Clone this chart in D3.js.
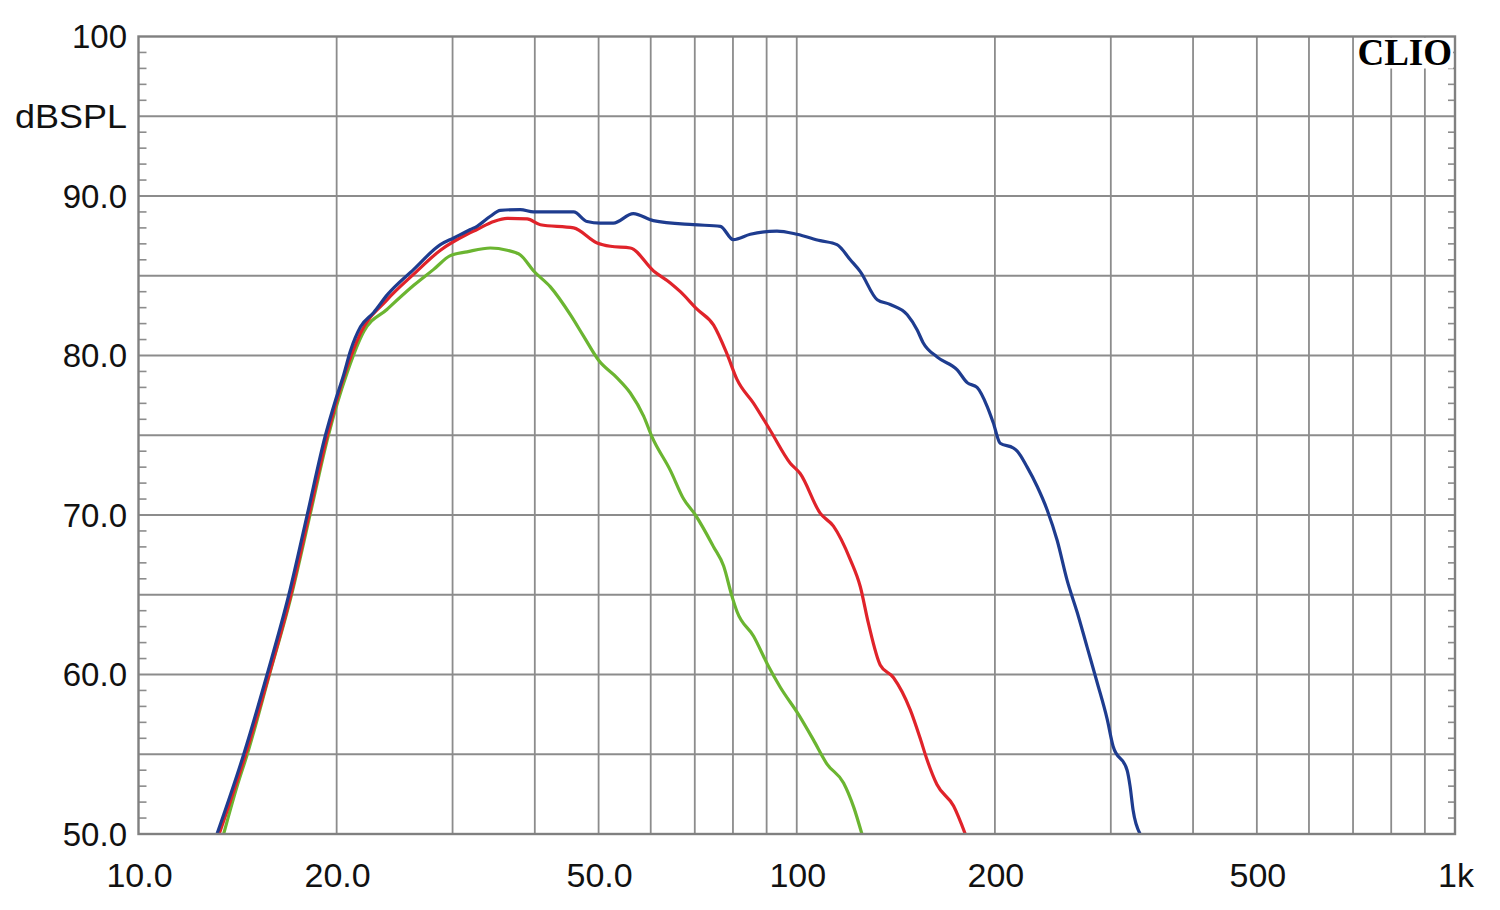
<!DOCTYPE html>
<html>
<head>
<meta charset="utf-8">
<script src="https://cdn.jsdelivr.net/npm/d3@7"></script>
<style>
html,body{margin:0;padding:0;background:#fff;}
svg{display:block;}
</style>
</head>
<body>
<svg id="chart" width="1500" height="910"></svg>
<script>
// ---- data (frequency in Hz, level in dBSPL) ----
const blueFreq = [13.16,14.45,15.68,16.92,18.04,19.23,19.92,20.50,20.99,21.74,22.77,23.87,26.19,28.75,30.12,31.93,32.68,34.24,35.45,38.03,39.84,45.82,48.02,50.30,52.64,56.45,60.54,69.64,76.54,80.10,85.01,93.31,100.07,108.56,115.1,120.6,124.9,132.5,138.7,147.2,152.4,155.6,163.5,175.3,181.5,187.9,194.7,198.8,203.7,213.3,216.2,223.9,231.8,240.2,248.7,257.5,266.7,276.2,286.0,296.2,302.4,317.6,320.9,324.3,332.4];
const blueDb   = [50.0,55.0,60.0,65.0,70.0,75.0,77.2,78.8,80.3,81.8,82.7,83.8,85.4,86.95,87.37,87.9,88.1,88.73,89.1,89.15,89.0,89.0,88.4,88.3,88.3,88.9,88.46,88.2,88.1,87.26,87.6,87.8,87.6,87.2,86.95,86.0,85.26,83.5,83.2,82.56,81.6,80.8,79.9,79.1,78.3,78.0,76.8,75.8,74.5,74.2,74.0,73.0,71.8,70.3,68.4,65.9,63.9,61.7,59.5,57.2,55.5,54.0,53.0,51.5,50.0];

const redFreq = [13.26,14.55,15.79,17.04,18.16,19.36,20.64,21.74,23.87,26.19,28.75,31.56,32.68,34.64,36.30,38.94,40.78,45.82,49.74,52.10,55.87,60.60,64.26,66.55,70.55,74.77,78.34,81.13,85.99,91.17,97.75,101.2,108.6,113.7,120.6,124.9,128.5,133.9,140.3,148.7,154.0,157.6,163.3,173.1,180.3];
const redDb   = [50.0,55.0,60.0,65.0,70.0,75.0,79.0,81.4,83.5,85.1,86.6,87.6,87.9,88.4,88.6,88.56,88.2,88.0,87.06,86.85,86.74,85.3,84.55,84.0,82.9,81.9,80.1,78.5,77.0,75.3,73.25,72.6,70.1,69.3,67.2,65.5,63.2,60.6,59.8,57.8,56.0,54.7,53.1,51.75,50.0];

const greenFreq = [13.47,14.12,14.63,15.81,17.08,18.22,19.43,20.74,21.99,23.87,26.19,28.08,29.77,31.56,34.24,36.30,38.03,39.84,42.24,45.29,47.46,50.00,53.33,55.87,58.53,60.27,64.26,67.33,70.15,74.77,77.43,79.73,81.13,85.99,90.62,94.40,100.6,106.0,111.1,117.8,122.0,125.6];
const greenDb   = [50.0,53.0,55.0,60.0,65.0,70.0,75.0,78.9,81.5,82.9,84.4,85.4,86.26,86.5,86.74,86.6,86.3,85.3,84.3,82.56,81.2,79.7,78.6,77.65,76.2,74.9,72.8,71.0,70.0,68.0,66.8,64.9,63.95,62.4,60.5,59.2,57.5,55.9,54.4,53.2,51.7,50.0];

const xGridValues = [20,30,40,50,60,70,80,90,100,200,300,400,500,600,700,800,900];
const xTickValues = [10,20,50,100,200,500,1000];
const xTickLabels = ["10.0","20.0","50.0","100","200","500","1k"];
const yGridValues = [55,60,65,70,75,80,85,90,95];
const yTickValues = [100,95,90,80,70,60,50];
const yTickLabels = ["100","dBSPL","90.0","80.0","70.0","60.0","50.0"];
const seriesColors = {green:"#6bb531", red:"#e0232a", blue:"#1e3c8f"};
const brand = "CLIO";

// ---- layout ----
const L = 138.5, R = 1455, T = 36.5, B = 834;
const svg = d3.select("#chart");
const x = d3.scaleLog().domain([10,1000]).range([L,R]);
const y = d3.scaleLinear().domain([50,100]).range([B,T]);
const gridColor = "#8c8c8c";

// grid
const g = svg.append("g");
g.selectAll("line.vx").data(xGridValues).enter().append("line")
  .attr("x1",d=>x(d)).attr("x2",d=>x(d)).attr("y1",T).attr("y2",B)
  .attr("stroke",gridColor).attr("stroke-width",1.8);
g.selectAll("line.hy").data(yGridValues).enter().append("line")
  .attr("x1",L).attr("x2",R).attr("y1",d=>y(d)).attr("y2",d=>y(d))
  .attr("stroke",gridColor).attr("stroke-width",1.8);

// minor ticks every 1 dB (left and right, inside)
const minor = d3.range(51,100).filter(v=>v%5!==0);
g.selectAll("line.ml").data(minor).enter().append("line")
  .attr("x1",L).attr("x2",L+8).attr("y1",d=>y(d)).attr("y2",d=>y(d))
  .attr("stroke",gridColor).attr("stroke-width",1.6);
g.selectAll("line.mr").data(minor).enter().append("line")
  .attr("x1",R-7).attr("x2",R).attr("y1",d=>y(d)).attr("y2",d=>y(d))
  .attr("stroke",gridColor).attr("stroke-width",1.6);

// curves
svg.append("clipPath").attr("id","clip").append("rect")
  .attr("x",L).attr("y",T).attr("width",R-L).attr("height",B-T);
const line = d3.line().x(d=>x(d[0])).y(d=>y(d[1])).curve(d3.curveMonotoneX);
const series = [
  {f:greenFreq, v:greenDb, c:seriesColors.green},
  {f:redFreq, v:redDb, c:seriesColors.red},
  {f:blueFreq, v:blueDb, c:seriesColors.blue}
];
const cg = svg.append("g").attr("clip-path","url(#clip)");
series.forEach(s=>{
  const pts = s.f.map((f,i)=>[f,s.v[i]]);
  cg.append("path").attr("d",line(pts)).attr("fill","none")
    .attr("stroke",s.c).attr("stroke-width",3.2).attr("stroke-linejoin","round");
});

// brand label with white box
svg.append("rect").attr("x",1356).attr("y",T+1).attr("width",R-1356-2).attr("height",31).attr("fill","#fff");
svg.append("text").attr("x",1452).attr("y",65).attr("text-anchor","end")
  .attr("font-family","'Liberation Serif','DejaVu Serif',serif").attr("font-weight","bold")
  .attr("font-size",37).attr("fill","#000").text(brand);

// frame
svg.append("rect").attr("x",L).attr("y",T).attr("width",R-L).attr("height",B-T)
  .attr("fill","none").attr("stroke","#808080").attr("stroke-width",2.4);

// axis labels
svg.selectAll("text.yl").data(yTickValues).enter().append("text")
  .attr("x",127).attr("y",d=>y(d)).attr("dy","0.36em").attr("text-anchor","end")
  .attr("font-family","'Liberation Sans',Arial,sans-serif").attr("font-size",33)
  .attr("fill","#111")
  .each(function(d,i){ if(yTickLabels[i]==="dBSPL"){ d3.select(this).attr("textLength",112).attr("lengthAdjust","spacingAndGlyphs"); } })
  .text((d,i)=>yTickLabels[i]);
svg.selectAll("text.xl").data(xTickValues).enter().append("text")
  .attr("x",d=>x(d)+1).attr("y",887).attr("text-anchor","middle")
  .attr("font-family","'Liberation Sans',Arial,sans-serif").attr("font-size",34)
  .attr("fill","#111").text((d,i)=>xTickLabels[i]);
</script>
</body>
</html>
